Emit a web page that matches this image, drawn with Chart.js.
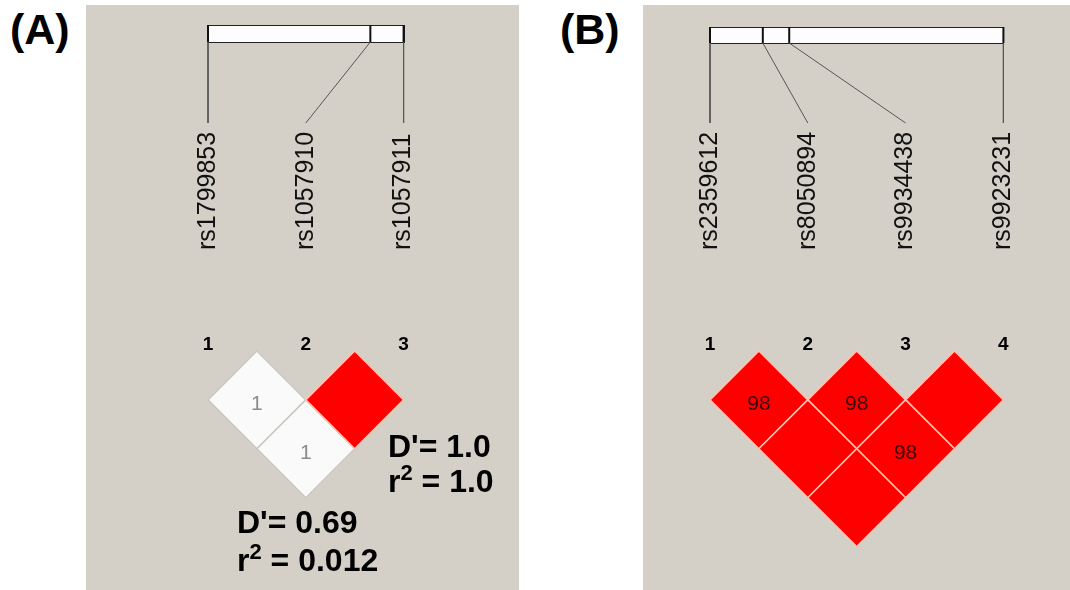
<!DOCTYPE html>
<html>
<head>
<meta charset="utf-8">
<script src="https://cdn.jsdelivr.net/npm/chart.js@4.4.1/dist/chart.umd.min.js"></script>
<style>
body { margin:0; background:#fff; width:1070px; height:590px; position:relative; overflow:hidden;
       font-family:"Liberation Sans", Arial, sans-serif; color:#000; }
.panel { position:absolute; top:5px; height:585px; background:#d4d0c8; }
.tag { position:absolute; top:8px; font-size:43px; font-weight:bold; line-height:43px; }
.note { position:absolute; font-size:32px; font-weight:bold; white-space:nowrap; }
.note sup { font-size:22px; vertical-align:baseline; position:relative; top:-12px; }
</style>
</head>
<body>
<div class="tag" style="left:10px">(A)</div>
<div class="tag" style="left:560px">(B)</div>
<div class="panel" style="left:86px;width:433px"><canvas id="chartA" width="433" height="585"></canvas></div>
<div class="panel" style="left:643px;width:427px"><canvas id="chartB" width="427" height="585"></canvas></div>
<div class="note" style="left:388px;top:429px;line-height:35px">D'= 1.0<br>r<sup>2</sup> = 1.0</div>
<div class="note" style="left:237px;top:503px;line-height:38px">D'= 0.69<br>r<sup>2</sup> = 0.012</div>
<script>
// 패널 A 데이터
const snpsA = ['rs1799853', 'rs1057910', 'rs1057911'];
const posA = [0, 0.83, 1.0];            // 유전자 막대 위의 상대 위치
const pairsA = [[1, 2], [1, 3], [2, 3]];
const ldA = [1, 1, 100];                // 100 = 칸에 숫자 없음

// 패널 B 데이터
const snpsB = ['rs2359612', 'rs8050894', 'rs9934438', 'rs9923231'];
const posB = [0, 0.18, 0.27, 1.0];
const pairsB = [[1, 2], [2, 3], [3, 4], [1, 3], [2, 4], [1, 4]];
const ldB = [98, 98, 100, 100, 98, 100];

// 레이아웃 (페이지 픽셀)
const STEP = 97.8;      // 마커 간격
const ROW0 = 351;       // 다이아몬드 꼭짓점 줄
const PANEL_TOP = 5, PANEL_H = 585;
const LINE_END = 123, LABEL_BOTTOM = 250, NUM_BASE = 350;

const ldDecor = {
    id: 'ldDecor',
    beforeDatasetsDraw(chart, args, o) {
        const ctx = chart.ctx, x = chart.scales.x, y = chart.scales.y;
        const x1 = x.getPixelForValue(1), x2 = x.getPixelForValue(o.snps.length);
        const yT = y.getPixelForValue(o.toY(o.barTop)), yB = y.getPixelForValue(o.toY(o.barBot));
        ctx.save();
        ctx.fillStyle = '#fdfdfd';
        ctx.fillRect(x1, yT, x2 - x1, yB - yT);
        ctx.strokeStyle = '#222';
        ctx.lineWidth = 1;
        ctx.strokeRect(Math.round(x1) + 0.5, Math.round(yT) + 0.5, Math.round(x2 - x1), Math.round(yB - yT));
        ctx.restore();
    },
    afterDatasetsDraw(chart, args, o) {
        const ctx = chart.ctx, x = chart.scales.x, y = chart.scales.y;
        ctx.save();
        ctx.fillStyle = '#111';
        // SNP 이름 (세로)
        ctx.font = '25px "Liberation Sans", Arial, sans-serif';
        ctx.textAlign = 'left';
        ctx.textBaseline = 'middle';
        o.snps.forEach((name, k) => {
            ctx.save();
            ctx.translate(x.getPixelForValue(k + 1), y.getPixelForValue(o.toY(LABEL_BOTTOM)));
            ctx.rotate(-Math.PI / 2);
            ctx.fillText(name, 0, 0);
            ctx.restore();
        });
        // 마커 번호
        ctx.font = 'bold 19px "Liberation Sans", Arial, sans-serif';
        ctx.textAlign = 'center';
        ctx.textBaseline = 'alphabetic';
        ctx.fillStyle = '#000';
        o.snps.forEach((name, k) => {
            ctx.fillText(String(k + 1), x.getPixelForValue(k + 1), y.getPixelForValue(o.toY(NUM_BASE)));
        });
        // 칸 안의 값
        ctx.font = '21px "Liberation Sans", Arial, sans-serif';
        const cells = chart.data.datasets[chart.data.datasets.length - 1].data;
        cells.forEach(c => {
            if (c.v >= 100) return;
            ctx.fillStyle = c.v >= 90 ? '#3a0505' : '#8c8c8c';
            ctx.fillText(String(c.v), x.getPixelForValue(c.x), y.getPixelForValue(c.y) + 10);
        });
        ctx.restore();
    }
};

function buildPanel(id, snps, pos, pairs, ld, left, width, firstPix, barTop, barBot) {
    const n = snps.length;
    const xmin = 1 - (firstPix - left) / STEP;
    const ymin = -(ROW0 - PANEL_TOP) / STEP;
    const toY = p => (p - ROW0) / STEP;
    const toX = f => 1 + f * (n - 1);

    const datasets = [];
    // 막대에서 이름으로 가는 선
    pos.forEach((f, k) => {
        datasets.push({
            data: [{x: toX(f), y: toY(barBot)}, {x: k + 1, y: toY(LINE_END)}],
            showLine: true, borderColor: '#555', borderWidth: 1, pointRadius: 0
        });
    });
    // 막대 안의 눈금
    pos.forEach(f => {
        datasets.push({
            data: [{x: toX(f), y: toY(barTop)}, {x: toX(f), y: toY(barBot)}],
            showLine: true, borderColor: '#111', borderWidth: 2, pointRadius: 0
        });
    });
    // LD 다이아몬드
    datasets.push({
        data: pairs.map((p, k) => ({x: (p[0] + p[1]) / 2, y: (p[1] - p[0]) / 2, v: ld[k]})),
        pointStyle: 'rectRot',
        pointRadius: ctx => ctx.chart.scales.x.getPixelForValue(0.5) - ctx.chart.scales.x.getPixelForValue(0),
        backgroundColor: ctx => ctx.raw.v >= 90 ? '#ff0000' : '#fafafa',
        borderColor: ctx => ctx.raw.v >= 90 ? '#ffc2ae' : '#cbc8c2',
        borderWidth: 1.5
    });

    return new Chart(document.getElementById(id), {
        type: 'scatter',
        data: { datasets: datasets },
        options: {
            responsive: false,
            animation: false,
            events: [],
            layout: { padding: 0 },
            scales: {
                x: { type: 'linear', display: false, min: xmin, max: xmin + width / STEP },
                y: { type: 'linear', display: false, reverse: true, min: ymin, max: ymin + PANEL_H / STEP }
            },
            plugins: {
                legend: { display: false },
                tooltip: { enabled: false },
                ldDecor: { snps: snps, toY: toY, barTop: barTop, barBot: barBot }
            }
        },
        plugins: [ldDecor]
    });
}

buildPanel('chartA', snpsA, posA, pairsA, ldA, 86, 433, 208, 25, 42);
buildPanel('chartB', snpsB, posB, pairsB, ldB, 643, 427, 710, 27, 43);
</script>
</body>
</html>
